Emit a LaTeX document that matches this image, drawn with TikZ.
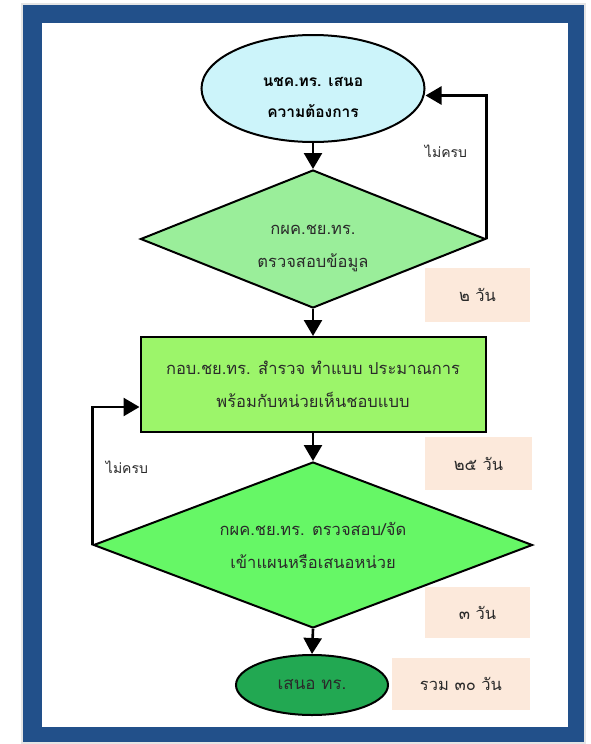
\documentclass[tikz,border=0pt]{standalone}
\usepackage{fontspec}
\newfontfamily\thai[Script=Thai]{Loma}
\usetikzlibrary{shapes.geometric,arrows.meta,calc}
\definecolor{framebl}{HTML}{22508A}
\definecolor{startcyan}{HTML}{CCF4FA}
\definecolor{dgreenA}{HTML}{9AEE9A}
\definecolor{procgreen}{HTML}{9CF56A}
\definecolor{dgreenB}{HTML}{66F766}
\definecolor{endgreen}{HTML}{22A852}
\definecolor{peach}{HTML}{FCE9DB}
\definecolor{txtgray}{HTML}{2A2A2A}
\tikzset{
  flowline/.style={line width=2.6pt,-{Triangle[length=16pt,width=18pt]}},
  loopline/.style={line width=2.6pt,-{Triangle[length=16pt,width=18pt]}},
  shapeline/.style={draw=black,line width=2pt},
  thaitxt/.style={font=\thai\fontsize{16.5}{33}\selectfont,text=txtgray,align=center},
  starttxt/.style={font=\thai\bfseries\fontsize{15.5}{31}\selectfont,text=black,align=center,inner sep=0pt},
  startnode/.style={ellipse,shapeline,fill=startcyan,inner sep=0pt,minimum width=223pt,minimum height=107pt},
  decide/.style={diamond,shapeline,inner sep=0pt,shape aspect=2.6,thaitxt},
  procbox/.style={rectangle,shapeline,fill=procgreen,inner sep=0pt,minimum width=345pt,minimum height=95pt,thaitxt},
  endnode/.style={ellipse,shapeline,fill=endgreen,inner sep=0pt,minimum width=152pt,minimum height=60pt,thaitxt,font=\thai\fontsize{17}{33}\selectfont},
  daybox/.style={rectangle,fill=peach,inner sep=0pt,thaitxt},
  looplabel/.style={inner sep=0pt,thaitxt,font=\thai\fontsize{14}{28}\selectfont},
}
\begin{document}
\begin{tikzpicture}[x=1pt,y=-1pt]
\useasboundingbox (0,0) rectangle (591,744);
% frame
\fill[gray!20] (21,3) rectangle (586,744);
\fill[framebl] (23,5) rectangle (584,742);
\fill[white] (42,23) rectangle (568,727);

% nodes
\node[startnode,label={[name=e1t,starttxt,yshift=-9pt]center:{นชค.ทร. เสนอ\\ความต้องการ}}] (e1) at (313,88.5) {};
\node[decide,fill=dgreenA,minimum width=345pt,minimum height=138pt,label={[name=d1t,thaitxt,inner sep=0pt,yshift=-9pt]center:{กผค.ชย.ทร.\\ตรวจสอบข้อมูล}}] (d1) at (313,239) {};
\node[procbox] (r) at (313,384.5) {กอบ.ชย.ทร. สำรวจ ทำแบบ ประมาณการ\\พร้อมกับหน่วยเห็นชอบแบบ};
\node[decide,fill=dgreenB,minimum width=439pt,minimum height=166pt] (d2) at (313,545) {กผค.ชย.ทร. ตรวจสอบ/จัด\\เข้าแผนหรือเสนอหน่วย};
\node[endnode] (e2) at (312,685) {เสนอ ทร.};

\node[daybox,minimum width=105pt,minimum height=54pt] (b1) at (477.5,295) {๒ วัน};
\node[daybox,minimum width=107pt,minimum height=53pt] (b2) at (478.5,463.5) {๒๕ วัน};
\node[daybox,minimum width=105pt,minimum height=51pt] (b3) at (477.5,612.5) {๓ วัน};
\node[daybox,minimum width=138pt,minimum height=52pt] (b4) at (461,684) {รวม ๓๐ วัน};

\node[looplabel] (l1) at (446,151) {ไม่ครบ};
\node[looplabel] (l2) at (127,467) {ไม่ครบ};

% connectors
\draw[flowline] (e1) -- (d1);
\draw[flowline] (d1) -- (r);
\draw[flowline] (r) -- (d2);
\draw[flowline] (d2.south) -- (e2.north);
\draw[loopline] (d1.east) |- ([yshift=-7pt]e1.east);
\draw[loopline] (d2.west) |- ([yshift=-22.5pt]r.west);
\end{tikzpicture}
\end{document}
